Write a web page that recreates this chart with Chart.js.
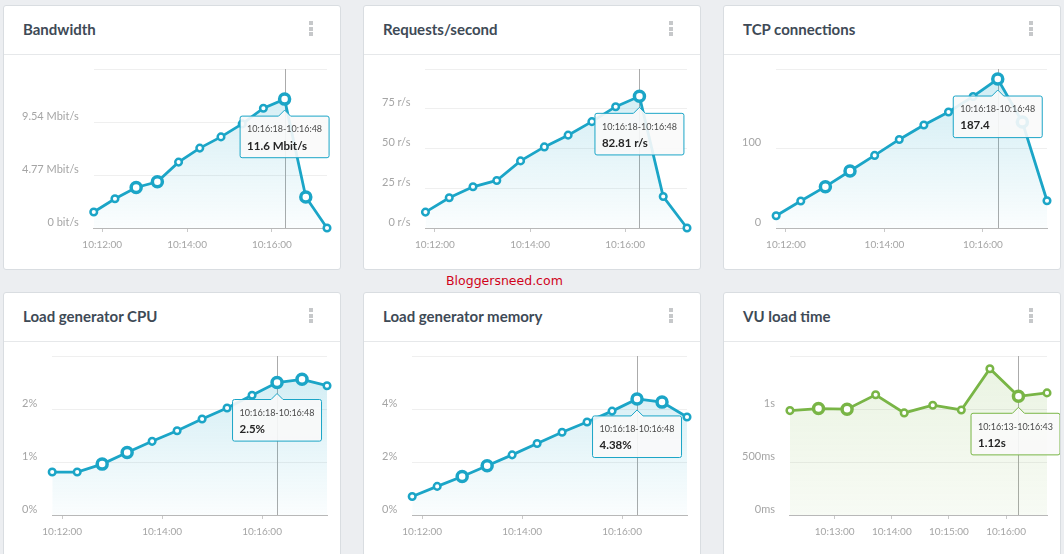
<!DOCTYPE html>
<html>
<head>
<meta charset="utf-8">
<script src="https://cdn.jsdelivr.net/npm/chart.js@4.4.0/dist/chart.umd.min.js"></script>
<style>
  html, body { margin: 0; padding: 0; }
  body { width: 1064px; height: 554px; background: #eceef1; position: relative; overflow: hidden; font-family: Lato, 'Open Sans', sans-serif; }
  .card { position: absolute; width: 338px; height: 265px; background: #fff; border: 1px solid #d9dde1; border-radius: 3px; box-sizing: border-box; }
  .card-head { height: 48px; border-bottom: 1px solid #e6e8ea; position: relative; }
  .card-head h3 { margin: 0; padding-left: 19px; line-height: 46px; font-size: 15px; font-weight: 700; color: #3e4a56; }
  .dots { position: absolute; left: 305px; top: 15px; width: 4px; }
  .dots span { display: block; width: 4px; height: 4px; background: #c6c8ca; margin-bottom: 1.5px; }
  .card-body { position: relative; width: 336px; height: 213px; }
  .watermark { position: absolute; left: 446px; top: 273px; font-family: 'DejaVu Sans', sans-serif; font-size: 12.5px; line-height: 15px; color: #d0021b; }
</style>
</head>
<body>
  <div class="card" style="left:3px;top:5px"><div class="card-head"><h3>Bandwidth</h3><div class="dots"><span></span><span></span><span></span></div></div><div class="card-body"><canvas id="bandwidth"></canvas></div></div>
  <div class="card" style="left:363px;top:5px"><div class="card-head"><h3>Requests/second</h3><div class="dots"><span></span><span></span><span></span></div></div><div class="card-body"><canvas id="requests"></canvas></div></div>
  <div class="card" style="left:723px;top:5px"><div class="card-head"><h3>TCP connections</h3><div class="dots"><span></span><span></span><span></span></div></div><div class="card-body"><canvas id="tcp"></canvas></div></div>
  <div class="card" style="left:3px;top:292px"><div class="card-head"><h3>Load generator CPU</h3><div class="dots"><span></span><span></span><span></span></div></div><div class="card-body"><canvas id="cpu"></canvas></div></div>
  <div class="card" style="left:363px;top:292px"><div class="card-head"><h3>Load generator memory</h3><div class="dots"><span></span><span></span><span></span></div></div><div class="card-body"><canvas id="memory"></canvas></div></div>
  <div class="card" style="left:723px;top:292px"><div class="card-head"><h3>VU load time</h3><div class="dots"><span></span><span></span><span></span></div></div><div class="card-body"><canvas id="vu"></canvas></div></div>
  <div class="watermark">Bloggersneed.com</div>

<script>
// sample start times (each sample covers 30s)
const pointTimes = ['10:11:48', '10:12:18', '10:12:48', '10:13:18', '10:13:48', '10:14:18',
                    '10:14:48', '10:15:18', '10:15:48', '10:16:18', '10:16:48', '10:17:18'];
const timeTicks = ['10:12:00', '10:14:00', '10:16:00'];
const vuPointTimes = ['10:12:13', '10:12:43', '10:13:13', '10:13:43', '10:14:13',
                      '10:14:43', '10:15:13', '10:15:43', '10:16:13', '10:16:43'];
const vuTimeTicks = ['10:13:00', '10:14:00', '10:15:00', '10:16:00'];

const bandwidth = [1.44, 2.63, 3.65, 4.16, 5.93, 7.19, 8.20, 9.37, 10.78, 11.6, 2.79, 0];   // Mbit/s
const bandwidthTicks = [0, 4.77, 9.54, 14.31];
const requests = [10.0, 19.0, 25.9, 29.9, 42.2, 51.0, 58.4, 66.9, 76.3, 82.81, 19.8, 0];   // r/s
const requestTicks = [0, 25, 50, 75, 100];
const tcpConnections = [15.5, 34.0, 52.0, 71.7, 91.3, 111.4, 129.6, 145.9, 165.5, 187.4, 133.3, 34.3];
const tcpTicks = [0, 100, 200];
const cpu = [0.81, 0.81, 0.96, 1.18, 1.39, 1.59, 1.81, 2.02, 2.26, 2.5, 2.56, 2.44];       // %
const cpuTicks = [0, 1, 2, 3];
const memory = [0.70, 1.08, 1.45, 1.86, 2.27, 2.70, 3.12, 3.51, 3.92, 4.38, 4.26, 3.70];  // %
const memoryTicks = [0, 2, 4, 6];
const vuLoadTime = [985, 1004, 998, 1134, 963, 1036, 991, 1380, 1120, 1152];               // ms
const vuTicks = [0, 500, 1000, 1500];

const BLUE = '#1ba5c7';
const GREEN = '#79b546';
const FONT = 'Lato';

function toSec(t) {
  const [h, m, s] = t.split(':').map(Number);
  return h * 3600 + m * 60 + s;
}
function fmt(sec) {
  const h = Math.floor(sec / 3600), m = Math.floor(sec % 3600 / 60), s = sec % 60;
  return [h, m, s].map(n => String(n).padStart(2, '0')).join(':');
}
function rgba(hex, a) {
  const n = parseInt(hex.slice(1), 16);
  return `rgba(${n >> 16},${(n >> 8) & 255},${n & 255},${a})`;
}

// vertical line at the hovered sample
const crosshair = {
  id: 'crosshair',
  beforeDatasetsDraw(chart) {
    const act = chart.tooltip.getActiveElements();
    if (!act.length) return;
    const x = Math.round(act[0].element.x) + 0.5;
    const { top, bottom } = chart.chartArea;
    const c = chart.ctx;
    c.save();
    c.strokeStyle = '#ababab';
    c.lineWidth = 1;
    c.beginPath();
    c.moveTo(x, top);
    c.lineTo(x, bottom);
    c.stroke();
    c.restore();
  }
};

function makeChart(id, cfg) {
  const { times, values, xTicks, yTicks, yLabel, valueLabel, color, big, active, topAlpha, bottomAlpha } = cfg;
  const secs = times.map(toSec);
  const data = values.map((v, i) => ({ x: secs[i], y: v }));

  const chart = new Chart(document.getElementById(id), {
    type: 'line',
    data: {
      datasets: [{
        data,
        borderColor: color,
        borderWidth: 2.8,
        tension: 0,
        fill: 'origin',
        clip: false,
        backgroundColor: ctx => {
          const area = ctx.chart.chartArea;
          if (!area) return 'transparent';
          const g = ctx.chart.ctx.createLinearGradient(0, area.top, 0, area.bottom);
          g.addColorStop(0, rgba(color, topAlpha));
          g.addColorStop(1, rgba(color, bottomAlpha));
          return g;
        },
        pointBackgroundColor: '#fff',
        pointBorderColor: color,
        pointRadius: ctx => big.includes(ctx.dataIndex) ? 5 : 3.3,
        pointBorderWidth: ctx => big.includes(ctx.dataIndex) ? 3.5 : 2.5
      }]
    },
    options: {
      responsive: true,
      maintainAspectRatio: false,
      animation: false,
      events: [],
      // the y axis adds its tick padding on both sides of the labels
      layout: { padding: { top: 14, right: 13, bottom: 10, left: 3 } },
      scales: {
        x: {
          type: 'linear',
          min: secs[0],
          max: secs[secs.length - 1],
          afterBuildTicks: axis => { axis.ticks = xTicks.map(t => ({ value: toSec(t) })); },
          afterFit: axis => { axis.paddingLeft = 0; axis.paddingRight = 0; },
          ticks: { callback: v => fmt(v), color: '#a5a5a5', font: { family: FONT, size: 10 }, padding: 7, maxRotation: 0, autoSkip: false },
          grid: { display: true, drawOnChartArea: false, drawTicks: true, tickLength: 4, color: '#c9c9c9' },
          border: { display: true, color: '#b8b8b8' }
        },
        y: {
          min: 0,
          max: yTicks[yTicks.length - 1],
          afterBuildTicks: axis => { axis.ticks = yTicks.map(v => ({ value: v })); },
          afterFit: axis => { axis.paddingTop = 0; axis.paddingBottom = 0; },
          ticks: {
            callback: (v, i) => i === yTicks.length - 1 ? '' : yLabel(v),
            color: '#a5a5a5', font: { family: FONT, size: 11 }, padding: 15, labelOffset: -6
          },
          grid: { color: '#efefef', drawTicks: false },
          border: { display: false }
        }
      },
      plugins: {
        legend: { display: false },
        tooltip: {
          enabled: true,
          xAlign: 'center',
          yAlign: 'top',
          backgroundColor: 'rgba(250,250,250,0.9)',
          borderColor: color,
          borderWidth: 1,
          titleColor: '#4a4a4a',
          titleFont: { family: FONT, size: 9, weight: 'normal' },
          bodyColor: '#262626',
          bodyFont: { family: FONT, size: 11.5, weight: 'bold' },
          padding: { top: 8, bottom: 5, left: 7, right: 7 },
          titleMarginBottom: 4,
          caretSize: 6,
          caretPadding: 11,
          cornerRadius: 2,
          displayColors: false,
          callbacks: {
            title: items => fmt(items[0].parsed.x) + '-' + fmt(items[0].parsed.x + 30),
            label: item => valueLabel(item.parsed.y)
          }
        }
      }
    },
    plugins: [crosshair]
  });

  chart.tooltip.setActiveElements([{ datasetIndex: 0, index: active }], { x: 0, y: 0 });
  chart.update();
  return chart;
}

const blueStyle = { color: BLUE, topAlpha: 0.22, bottomAlpha: 0.02 };

makeChart('bandwidth', {
  ...blueStyle, times: pointTimes, values: bandwidth, xTicks: timeTicks, yTicks: bandwidthTicks,
  yLabel: v => v === 0 ? '0 bit/s' : v.toFixed(2) + ' Mbit/s',
  valueLabel: v => v + ' Mbit/s', big: [2, 3, 9, 10], active: 9
});
makeChart('requests', {
  ...blueStyle, times: pointTimes, values: requests, xTicks: timeTicks, yTicks: requestTicks,
  yLabel: v => v + ' r/s', valueLabel: v => v + ' r/s', big: [9], active: 9
});
makeChart('tcp', {
  ...blueStyle, times: pointTimes, values: tcpConnections, xTicks: timeTicks, yTicks: tcpTicks,
  yLabel: v => String(v), valueLabel: v => String(v), big: [2, 3, 9, 10], active: 9
});
makeChart('cpu', {
  ...blueStyle, times: pointTimes, values: cpu, xTicks: timeTicks, yTicks: cpuTicks,
  yLabel: v => v + '%', valueLabel: v => v + '%', big: [2, 3, 9, 10], active: 9
});
makeChart('memory', {
  ...blueStyle, times: pointTimes, values: memory, xTicks: timeTicks, yTicks: memoryTicks,
  yLabel: v => v + '%', valueLabel: v => v + '%', big: [2, 3, 9, 10], active: 9
});
makeChart('vu', {
  color: GREEN, topAlpha: 0.16, bottomAlpha: 0.06,
  times: vuPointTimes, values: vuLoadTime, xTicks: vuTimeTicks, yTicks: vuTicks,
  yLabel: v => v >= 1000 ? (v / 1000) + 's' : v + 'ms',
  valueLabel: v => (v / 1000).toFixed(2) + 's', big: [1, 2, 8], active: 8
});
</script>
</body>
</html>
